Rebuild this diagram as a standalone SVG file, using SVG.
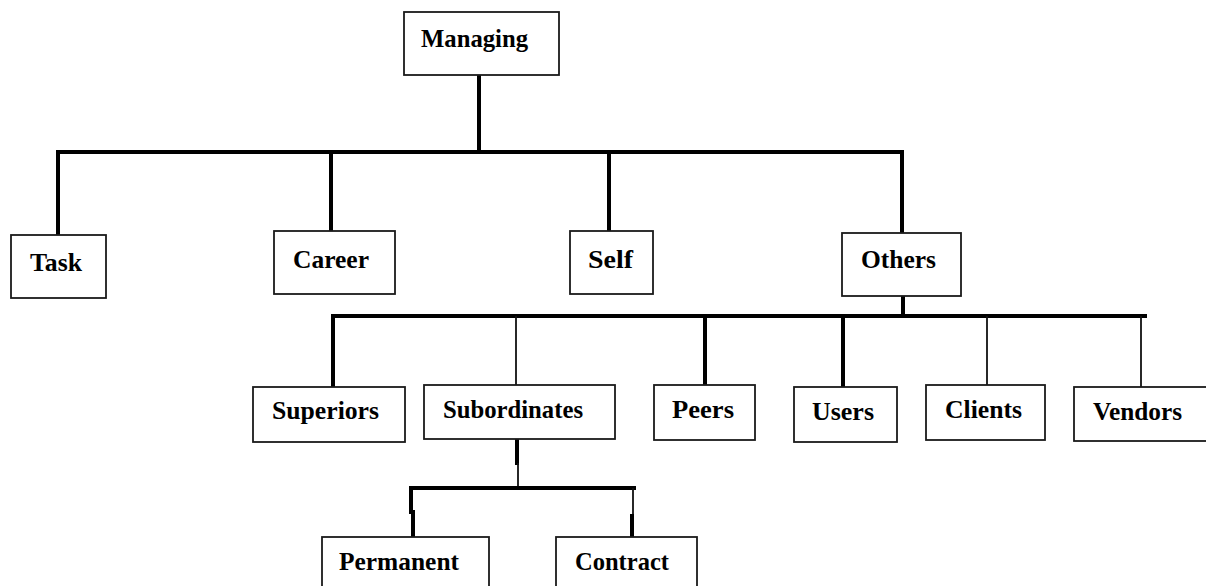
<svg xmlns="http://www.w3.org/2000/svg" width="1206" height="586" viewBox="0 0 1206 586">
<style>
.box{fill:#fff;stroke:#1a1a1a;stroke-width:1.8}
.t{font-family:"Liberation Serif","Times New Roman",serif;font-weight:bold;font-size:26px;fill:#000}
.k{stroke:#000;stroke-width:4;fill:none;stroke-linecap:square}
.n{stroke:#111;stroke-width:1.8;fill:none}
</style>
<rect width="1206" height="586" fill="#fff"/>
<g id="connectors">
<line class="k" x1="479" y1="75" x2="479" y2="152"/>
<line class="k" x1="58" y1="152" x2="902" y2="152"/>
<line class="k" x1="58" y1="152" x2="58" y2="235"/>
<line class="k" x1="331" y1="152" x2="331" y2="231"/>
<line class="k" x1="609" y1="152" x2="609" y2="231"/>
<line class="k" x1="902" y1="152" x2="902" y2="233"/>
<line class="k" x1="903" y1="296" x2="903" y2="316"/>
<line class="k" x1="333" y1="316" x2="1145" y2="316"/>
<line class="k" x1="333" y1="316" x2="333" y2="387"/>
<line class="n" x1="516" y1="316" x2="516" y2="385"/>
<line class="k" x1="705" y1="316" x2="705" y2="385"/>
<line class="k" x1="843" y1="316" x2="843" y2="387"/>
<line class="n" x1="987" y1="316" x2="987" y2="385"/>
<line class="n" x1="1141" y1="316" x2="1141" y2="387"/>
<line class="k" x1="517" y1="440" x2="517" y2="463"/>
<line class="n" x1="518" y1="463" x2="518" y2="488"/>
<line class="k" x1="411" y1="488" x2="634" y2="488"/>
<line class="k" x1="411" y1="488" x2="411" y2="512"/>
<line class="k" x1="413" y1="512" x2="413" y2="537"/>
<line class="n" x1="633" y1="488" x2="633" y2="516"/>
<line class="k" x1="632" y1="516" x2="632" y2="538"/>
</g>
<g id="managing"><rect class="box" x="404" y="12" width="155" height="63"/><text class="t" x="421" y="47" textLength="107" lengthAdjust="spacingAndGlyphs">Managing</text></g>
<g id="task"><rect class="box" x="11" y="235" width="95" height="63"/><text class="t" x="30" y="271" textLength="52" lengthAdjust="spacingAndGlyphs">Task</text></g>
<g id="career"><rect class="box" x="274" y="231" width="121" height="63"/><text class="t" x="293" y="268" textLength="76" lengthAdjust="spacingAndGlyphs">Career</text></g>
<g id="self"><rect class="box" x="570" y="231" width="83" height="63"/><text class="t" x="588" y="268" textLength="45" lengthAdjust="spacingAndGlyphs">Self</text></g>
<g id="others"><rect class="box" x="842" y="233" width="119" height="63"/><text class="t" x="861" y="268" textLength="75" lengthAdjust="spacingAndGlyphs">Others</text></g>
<g id="superiors"><rect class="box" x="253" y="387" width="152" height="55"/><text class="t" x="272" y="419" textLength="107" lengthAdjust="spacingAndGlyphs">Superiors</text></g>
<g id="subordinates"><rect class="box" x="424" y="385" width="191" height="54"/><text class="t" x="443" y="418" textLength="140" lengthAdjust="spacingAndGlyphs">Subordinates</text></g>
<g id="peers"><rect class="box" x="654" y="385" width="101" height="55"/><text class="t" x="672" y="418" textLength="62" lengthAdjust="spacingAndGlyphs">Peers</text></g>
<g id="users"><rect class="box" x="794" y="387" width="103" height="55"/><text class="t" x="812" y="420" textLength="62" lengthAdjust="spacingAndGlyphs">Users</text></g>
<g id="clients"><rect class="box" x="926" y="385" width="119" height="55"/><text class="t" x="945" y="418" textLength="77" lengthAdjust="spacingAndGlyphs">Clients</text></g>
<g id="vendors"><rect class="box" x="1074" y="387" width="140" height="54"/><text class="t" x="1093" y="420" textLength="89" lengthAdjust="spacingAndGlyphs">Vendors</text></g>
<g id="permanent"><rect class="box" x="322" y="537" width="167" height="60"/><text class="t" x="339" y="570" textLength="120" lengthAdjust="spacingAndGlyphs">Permanent</text></g>
<g id="contract"><rect class="box" x="556" y="537" width="141" height="60"/><text class="t" x="575" y="570" textLength="94" lengthAdjust="spacingAndGlyphs">Contract</text></g>
</svg>
